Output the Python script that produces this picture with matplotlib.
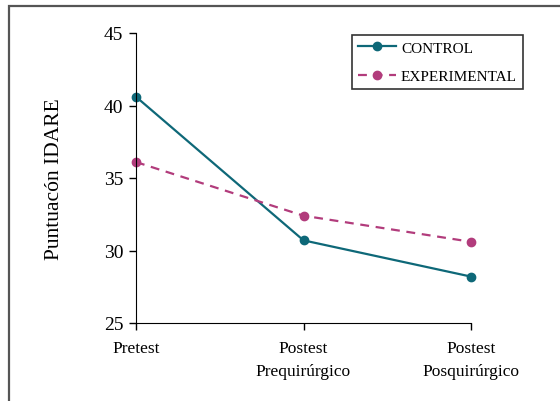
import numpy as np
import matplotlib.pyplot as plt
from matplotlib.patches import Rectangle

plt.rcParams['font.family'] = ['Liberation Serif', 'DejaVu Serif']

etapas = ['Pretest', 'Postest\nPrequirúrgico', 'Postest\nPosquirúrgico']
control = [40.6, 30.7, 28.2]
experimental = [36.1, 32.4, 30.6]

fig = plt.figure(figsize=(5.6, 4.02), dpi=100)
ax = fig.add_axes([136/560, 1 - 324/402, (471 - 136)/560, (324 - 34)/402])

# marco exterior de la figura
fig.patches.append(Rectangle((9/560, -0.1), 1.2, 1 - 7/402 + 0.1,
                             transform=fig.transFigure, fill=False,
                             edgecolor='#555555', linewidth=1.6))

x = np.arange(len(etapas))
ax.plot(x, control, color='#0e6878', lw=1.6, marker='o', ms=6,
        label='CONTROL', clip_on=False)
ax.plot(x, experimental, color='#b23c7c', lw=1.6, ls=(0, (4, 3)),
        marker='o', ms=6, label='EXPERIMENTAL', clip_on=False)

ax.set_xlim(0, 2)
ax.set_ylim(25, 45)
ax.set_yticks([25, 30, 35, 40, 45])
ax.set_xticks(x)
ax.set_xticklabels(etapas, fontsize=12.5, linespacing=1.6)
ax.tick_params(axis='y', labelsize=14, length=5, width=1, pad=4)
ax.tick_params(axis='x', length=5, width=1, pad=7)
ax.spines['top'].set_visible(False)
ax.spines['right'].set_visible(False)
ax.set_ylabel('Puntuacón IDARE', fontsize=15.5)
ax.yaxis.set_label_coords(-0.215, 0.5)

leg = ax.legend(loc='upper left', bbox_to_anchor=(0.645, 0.993), fontsize=11,
                frameon=True, fancybox=False, edgecolor='black',
                handlelength=2.5, borderpad=0.4, labelspacing=0.95,
                handletextpad=0.3, borderaxespad=0)
leg.get_frame().set_linewidth(1.2)

fig.savefig('out.png', dpi=100)
